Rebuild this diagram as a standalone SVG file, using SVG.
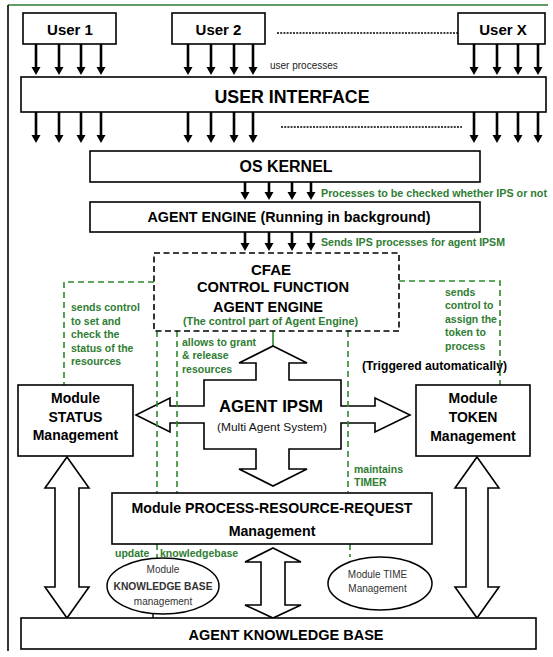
<svg xmlns="http://www.w3.org/2000/svg" width="553" height="657" viewBox="0 0 553 657">
<defs>
<marker id="ah" markerWidth="10" markerHeight="10" refX="1" refY="4.5" orient="auto" markerUnits="userSpaceOnUse">
<path d="M0,0 L8,4.5 L0,9 Z" fill="#000"/>
</marker>
<style>
.box{fill:#fff;stroke:#000;stroke-width:1.6}
.dbox{fill:#fff;stroke:#000;stroke-width:1.6;stroke-dasharray:6 3.5}
.ell{fill:#fff;stroke:#000;stroke-width:1.5}
.big{fill:#fff;stroke:#000;stroke-width:1.6;stroke-linejoin:miter}
.ar{stroke:#000;stroke-width:2.6;fill:none;marker-end:url(#ah)}
.gd{stroke:#2b8a2b;stroke-width:1.6;stroke-dasharray:6 4;fill:none}
.dot{stroke:#000;stroke-width:1.6;stroke-dasharray:2 1.2;fill:none}
text{font-family:"Liberation Sans",Arial,sans-serif}
.t{font-weight:bold;fill:#000;text-anchor:middle}
.g{font-weight:bold;fill:#2e7d32;font-size:10.5px}
.s{fill:#333;text-anchor:middle;font-size:10px}
</style>
</defs>

<!-- frame -->
<line x1="8" y1="5" x2="548" y2="5" stroke="#2e7d32" stroke-width="1.5"/>
<line x1="8" y1="5" x2="8" y2="651" stroke="#000" stroke-width="1.6"/>

<g id="connectors">
<!-- user arrows -->
<line class="ar" x1="36" y1="44" x2="36" y2="68"/>
<line class="ar" x1="59" y1="44" x2="59" y2="68"/>
<line class="ar" x1="81" y1="44" x2="81" y2="68"/>
<line class="ar" x1="101" y1="44" x2="101" y2="68"/>
<line class="ar" x1="188" y1="44" x2="188" y2="68"/>
<line class="ar" x1="211" y1="44" x2="211" y2="68"/>
<line class="ar" x1="234" y1="44" x2="234" y2="68"/>
<line class="ar" x1="253" y1="44" x2="253" y2="68"/>
<line class="ar" x1="474" y1="44" x2="474" y2="68"/>
<line class="ar" x1="497" y1="44" x2="497" y2="68"/>
<line class="ar" x1="518" y1="44" x2="518" y2="68"/>
<line class="ar" x1="538" y1="44" x2="538" y2="68"/>
<line class="dot" x1="277" y1="33" x2="458" y2="33"/>
<!-- UI down arrows -->
<line class="ar" x1="36" y1="112" x2="36" y2="136"/>
<line class="ar" x1="59" y1="112" x2="59" y2="136"/>
<line class="ar" x1="81" y1="112" x2="81" y2="136"/>
<line class="ar" x1="101" y1="112" x2="101" y2="136"/>
<line class="ar" x1="188" y1="112" x2="188" y2="136"/>
<line class="ar" x1="211" y1="112" x2="211" y2="136"/>
<line class="ar" x1="234" y1="112" x2="234" y2="136"/>
<line class="ar" x1="253" y1="112" x2="253" y2="136"/>
<line class="ar" x1="474" y1="112" x2="474" y2="136"/>
<line class="ar" x1="497" y1="112" x2="497" y2="136"/>
<line class="ar" x1="518" y1="112" x2="518" y2="136"/>
<line class="ar" x1="538" y1="112" x2="538" y2="136"/>
<line class="dot" x1="281" y1="127" x2="462" y2="127"/>
<!-- OS kernel arrows -->
<line class="ar" x1="245" y1="182" x2="245" y2="193"/>
<line class="ar" x1="269" y1="182" x2="269" y2="193"/>
<line class="ar" x1="292" y1="182" x2="292" y2="193"/>
<line class="ar" x1="311" y1="182" x2="311" y2="193"/>
<!-- agent engine arrows -->
<line class="ar" x1="245" y1="232" x2="245" y2="244"/>
<line class="ar" x1="269" y1="232" x2="269" y2="244"/>
<line class="ar" x1="292" y1="232" x2="292" y2="244"/>
<line class="ar" x1="311" y1="232" x2="311" y2="244"/>
<!-- big double arrows -->
<path class="big" d="M67,457 L89,488 L79,488 L79,587 L89,587 L67,618 L45,587 L55,587 L55,488 L45,488 Z"/>
<path class="big" d="M477,457 L499,488 L488,488 L488,587 L499,587 L477,618 L455,587 L466,587 L466,488 L455,488 Z"/>
<path class="big" d="M273,548 L301,562 L285,562 L285,605 L301,605 L273,618 L245,605 L261,605 L261,562 L245,562 Z"/>
<!-- green dashed control lines -->
<polyline class="gd" points="154,282 64,282 64,385"/>
<polyline class="gd" points="399,281 500,281 500,385"/>
<line x1="273" y1="331" x2="273" y2="346" stroke="#2b8a2b" stroke-width="1.6"/>
<line x1="350" y1="544" x2="350" y2="557" class="gd"/>
<line x1="157" y1="544" x2="157" y2="559" class="gd"/>
<line x1="153" y1="614" x2="153" y2="618" stroke="#000" stroke-width="1.4"/>
</g>

<g id="agent-ipsm">
<path class="big" d="M273,346 L307,363 L289,363 L289,380 L341,380 L341,406 L375,406 L375,398 L410,415 L375,432 L375,423 L341,423 L341,449 L289,449 L289,469 L307,469 L273,486 L239,469 L256,469 L256,449 L204,449 L204,423 L170,423 L170,432 L136,415 L170,398 L170,406 L204,406 L204,380 L256,380 L256,363 L239,363 Z"/>
<text class="t" x="271" y="412" font-size="17" textLength="104" lengthAdjust="spacingAndGlyphs">AGENT IPSM</text>
<text x="272" y="431" font-size="11.5" text-anchor="middle" fill="#111" textLength="110" lengthAdjust="spacingAndGlyphs">(Multi Agent System)</text>
</g>

<g id="dashed-over">
<line class="gd" x1="157" y1="331" x2="157" y2="493"/>
<line class="gd" x1="177" y1="331" x2="177" y2="493"/>
<line class="gd" x1="348" y1="331" x2="348" y2="492"/>
</g>

<g id="user1">
<rect class="box" x="23" y="13" width="93" height="31"/>
<text class="t" x="70" y="35" font-size="15">User 1</text>
</g>
<g id="user2">
<rect class="box" x="172" y="13" width="93" height="31"/>
<text class="t" x="218.5" y="35" font-size="15">User 2</text>
</g>
<g id="userx">
<rect class="box" x="458" y="13" width="87" height="31"/>
<text class="t" x="503" y="35" font-size="15">User X</text>
</g>
<text x="270" y="69" font-size="10" fill="#222">user processes</text>

<g id="user-interface">
<rect class="box" x="21" y="77" width="525" height="35"/>
<text class="t" x="292" y="103" font-size="17.5" textLength="155" lengthAdjust="spacingAndGlyphs">USER INTERFACE</text>
</g>

<g id="os-kernel">
<rect class="box" x="90" y="151" width="390" height="31"/>
<text class="t" x="286" y="172" font-size="16" textLength="93" lengthAdjust="spacingAndGlyphs">OS KERNEL</text>
</g>
<text class="g" x="321" y="197" textLength="226" lengthAdjust="spacingAndGlyphs">Processes to be checked whether IPS or not</text>

<g id="agent-engine">
<rect class="box" x="90" y="202" width="390" height="30"/>
<text class="t" x="289" y="222" font-size="14" textLength="283" lengthAdjust="spacingAndGlyphs">AGENT ENGINE (Running in background)</text>
</g>
<text class="g" x="321" y="246" textLength="184" lengthAdjust="spacingAndGlyphs">Sends IPS processes for agent IPSM</text>

<g id="cfae">
<rect class="dbox" x="154" y="253" width="245" height="78"/>
<text class="t" x="271" y="275" font-size="15">CFAE</text>
<text class="t" x="273" y="292" font-size="15" textLength="152" lengthAdjust="spacingAndGlyphs">CONTROL FUNCTION</text>
<text class="t" x="268" y="312" font-size="15" textLength="110" lengthAdjust="spacingAndGlyphs">AGENT ENGINE</text>
<text class="g" x="270.5" y="325" text-anchor="middle" textLength="175" lengthAdjust="spacingAndGlyphs">(The control part of Agent Engine)</text>
</g>

<g id="labels-green">
<text class="g" x="71" y="311">sends control</text>
<text class="g" x="71" y="325">to set and</text>
<text class="g" x="71" y="338">check the</text>
<text class="g" x="71" y="352">status of the</text>
<text class="g" x="71" y="365">resources</text>
<text class="g" x="445" y="296">sends</text>
<text class="g" x="445" y="309">control to</text>
<text class="g" x="445" y="323">assign the</text>
<text class="g" x="445" y="336">token to</text>
<text class="g" x="445" y="350">process</text>
<text class="g" x="182" y="346">allows to grant</text>
<text class="g" x="182" y="359">&amp; release</text>
<text class="g" x="182" y="373">resources</text>
<text class="g" x="354" y="473">maintains</text>
<text class="g" x="354" y="486">TIMER</text>
<text class="g" x="115" y="557">update</text>
<text class="g" x="160" y="557">knowledgebase</text>
</g>
<text class="t" x="434.5" y="370" font-size="12" textLength="145" lengthAdjust="spacingAndGlyphs">(Triggered automatically)</text>

<g id="status">
<rect class="box" x="18" y="385" width="115" height="71"/>
<text class="t" x="75.5" y="403" font-size="14">Module</text>
<text class="t" x="75.5" y="422" font-size="14">STATUS</text>
<text class="t" x="75.5" y="440" font-size="14">Management</text>
</g>

<g id="token">
<rect class="box" x="416" y="385" width="114" height="71"/>
<text class="t" x="473" y="403" font-size="14">Module</text>
<text class="t" x="473" y="422" font-size="14">TOKEN</text>
<text class="t" x="473" y="441" font-size="14">Management</text>
</g>

<g id="prr">
<rect class="box" x="112" y="493" width="320" height="51"/>
<text class="t" x="272" y="513" font-size="14.2" textLength="281" lengthAdjust="spacingAndGlyphs">Module PROCESS-RESOURCE-REQUEST</text>
<text class="t" x="272" y="536" font-size="14.2">Management</text>
</g>

<g id="kb-module">
<ellipse class="ell" cx="163" cy="586" rx="56" ry="28"/>
<text class="s" x="163" y="573">Module</text>
<text class="s" x="163" y="589.5" font-weight="bold" textLength="99" lengthAdjust="spacingAndGlyphs">KNOWLEDGE BASE</text>
<text class="s" x="163" y="604.5">management</text>
</g>

<g id="time-module">
<ellipse class="ell" cx="380" cy="583.5" rx="52" ry="26.5"/>
<text class="s" x="377.5" y="578" font-size="11">Module TIME</text>
<text class="s" x="377.5" y="591.5" font-size="11">Management</text>
</g>

<g id="akb">
<rect class="box" x="21" y="618" width="515" height="31"/>
<text class="t" x="286" y="640" font-size="14.5" textLength="195" lengthAdjust="spacingAndGlyphs">AGENT KNOWLEDGE BASE</text>
</g>
</svg>
